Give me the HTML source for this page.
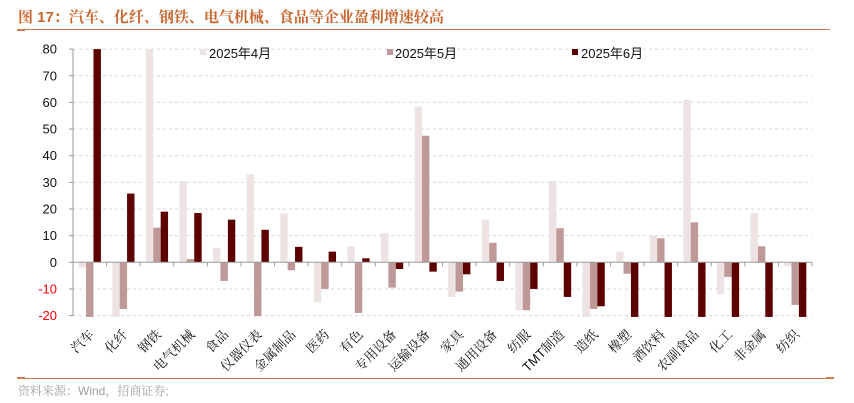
<!DOCTYPE html>
<html><head><meta charset="utf-8"><style>
body{margin:0;background:#fff;}
svg{display:block;font-family:"Liberation Sans","Noto Sans CJK SC",sans-serif;}
</style></head><body>
<svg width="854" height="403" viewBox="0 0 854 403" xmlns="http://www.w3.org/2000/svg">
<text x="18" y="22" font-size="15" font-weight="bold" fill="#c8642d" font-family="'Liberation Sans','Noto Serif CJK SC',serif">图 17：汽车、化纤、钢铁、电气机械、食品等企业盈利增速较高</text>
<line x1="17" y1="29.5" x2="830" y2="29.5" stroke="#d07a55" stroke-width="1"/>
<rect x="17" y="29" width="8" height="2" fill="#d07a55"/>
<line x1="17" y1="378.5" x2="830" y2="378.5" stroke="#d07a55" stroke-width="1"/>
<rect x="17" y="377" width="8" height="2" fill="#d07a55"/>
<rect x="826" y="377" width="8" height="2" fill="#d07a55"/>
<text x="18" y="395" font-size="12" fill="#a0a0a0" font-family="'Liberation Sans','Noto Serif CJK SC',serif">资料来源：Wind，招商证券;</text>
<g id="grid" stroke="#d6d6d6" stroke-dasharray="3,3" stroke-width="1"></g>
<g id="bars"></g>
<g id="axes"></g>
<g id="labels" font-size="13" fill="#111"></g>
<g font-size="13" fill="#111">
<rect x="200" y="49" width="6" height="6" fill="#ede3e3"/><text x="209" y="58">2025年4月</text>
<rect x="387" y="49" width="6" height="6" fill="#bf9898"/><text x="395" y="58">2025年5月</text>
<rect x="572" y="49" width="6" height="6" fill="#5c0000"/><text x="581" y="58">2025年6月</text>
</g>
<script>
var ns="http://www.w3.org/2000/svg";
function el(p,t,a,txt){var e=document.createElementNS(ns,t);for(var k in a)e.setAttribute(k,a[k]);if(txt!==undefined)e.textContent=txt;document.getElementById(p).appendChild(e);return e;}
var x0=73,x1=812,y0=262.3,k=2.665;
function Y(v){return y0-v*k;}
for(var v=-20;v<=80;v+=10){
 if(v!==0) el("grid","line",{x1:x0,x2:x1,y1:Y(v),y2:Y(v)});
 el("axes","line",{x1:69,x2:x0,y1:Y(v),y2:Y(v),stroke:"#999"});
 el("labels","text",{x:57,y:Y(v)+4.5,"text-anchor":"end","font-size":"13",fill:v<0?"#ff0000":"#111"},String(v));
}
el("axes","line",{x1:x0,x2:x0,y1:Y(80),y2:Y(-20),stroke:"#999"});
el("axes","line",{x1:x0,x2:x1,y1:y0,y2:y0,stroke:"#999"});
var d=[["汽车",-2,-20.5,80],["化纤",-20.5,-17.5,25.8],["钢铁",80,13,19],["电气机械",30.5,1.2,18.5],["食品",5.5,-7,16],["仪器仪表",33,-20.2,12.2],["金属制品",18.3,-3,5.8],["医药",-15,-10,4],["有色",6,-19,1.5],["专用设备",11,-9.5,-2.5],["运输设备",58.5,47.5,-3.5],["家具",-13,-11,-4.5],["通用设备",16,7.3,-7],["纺服",-18,-18,-10],["TMT制造",30.5,12.8,-13],["造纸",-20.5,-17.5,-16.5],["橡塑",4,-4.3,-20.5],["酒饮料",10,9,-20.5],["农副食品",61,15,-20.5],["化工",-12,-5.5,-20.5],["非金属",18.5,6,-20.5],["纺织",-1.5,-16,-20.5]];
var w=(x1-x0)/22,cols=["#ede3e3","#bf9898","#5c0000"],bw=7.4;
d.forEach(function(r,i){
 var c=x0+w*(i+0.5);
 for(var j=0;j<3;j++){var v=r[j+1];var bx=c-11.1+j*bw;var ya=Y(Math.max(v,0)),yb=Y(Math.min(v,0));
  el("bars","rect",{x:bx,y:ya,width:bw,height:yb-ya,fill:cols[j]});}
 el("axes","line",{x1:x0+w*(i+1),x2:x0+w*(i+1),y1:y0,y2:y0+4,stroke:"#999"});
 el("labels","text",{x:0,y:0,"text-anchor":"end","font-family":"'Liberation Sans','Noto Serif CJK SC',serif",transform:"translate("+(c+5)+","+(y0+73)+") rotate(-45)"},r[0]);
});
</script>
</svg>
</body></html>
